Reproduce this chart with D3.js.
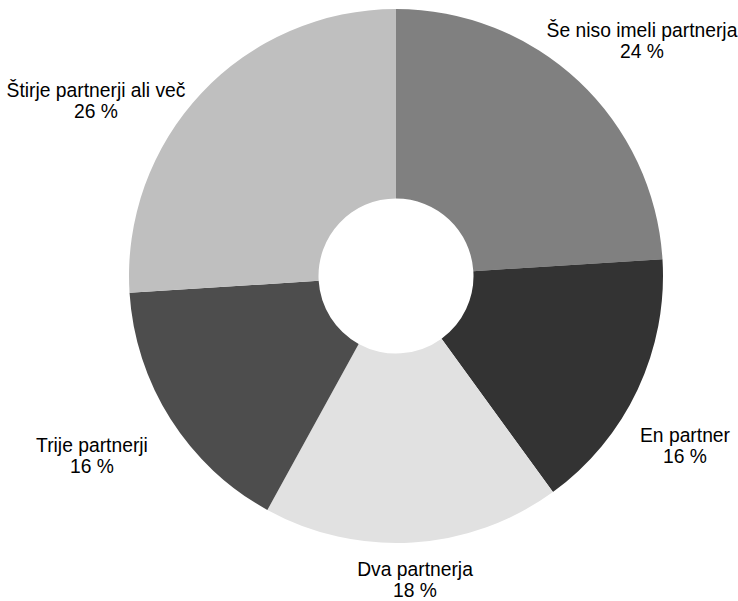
<!DOCTYPE html>
<html>
<head>
<meta charset="utf-8">
<script src="https://cdn.jsdelivr.net/npm/d3@7"></script>
<style>
  html, body { margin: 0; padding: 0; background: #fff; }
  svg { display: block; }
  text { font-family: "Liberation Sans", Arial, sans-serif; fill: #000; }
</style>
</head>
<body>
<svg id="chart" width="738" height="601"></svg>
<script>
// Number of sexual partners so far (share of respondents, %)
const categories = [
  "Še niso imeli partnerja",
  "En partner",
  "Dva partnerja",
  "Trije partnerji",
  "Štirje partnerji ali več"
];
const values = [24, 16, 18, 16, 26];
const colors = ["#808080", "#333333", "#e1e1e1", "#4d4d4d", "#bfbfbf"];

// Label anchor points (centre of the two-line label, first baseline)
const labelAnchors = [
  [642, 37],
  [685, 442],
  [415, 576],
  [92, 452],
  [96, 97]
];

const width = 738, height = 601;
const cx = 396, cy = 276;
const outerR = 267, innerR = 77.5;

const svg = d3.select("#chart");
const g = svg.append("g").attr("transform", `translate(${cx},${cy})`);

const data = categories.map((c, i) => ({ name: c, value: values[i], color: colors[i] }));

const pie = d3.pie().value(d => d.value).sort(null).startAngle(0).endAngle(2 * Math.PI);
const arc = d3.arc().innerRadius(innerR).outerRadius(outerR);

g.selectAll("path.slice")
  .data(pie(data))
  .join("path")
  .attr("class", "slice")
  .attr("d", arc)
  .attr("fill", d => d.data.color);

// Two-line labels: category name and percentage
const lineGap = 21;
const labels = svg.selectAll("text.label")
  .data(data)
  .join("text")
  .attr("class", "label")
  .attr("text-anchor", "middle")
  .style("font-size", "19.3px");

labels.append("tspan")
  .attr("x", (d, i) => labelAnchors[i][0])
  .attr("y", (d, i) => labelAnchors[i][1])
  .text(d => d.name);

labels.append("tspan")
  .attr("x", (d, i) => labelAnchors[i][0])
  .attr("y", (d, i) => labelAnchors[i][1] + lineGap)
  .text(d => `${d.value} %`);
</script>
</body>
</html>
